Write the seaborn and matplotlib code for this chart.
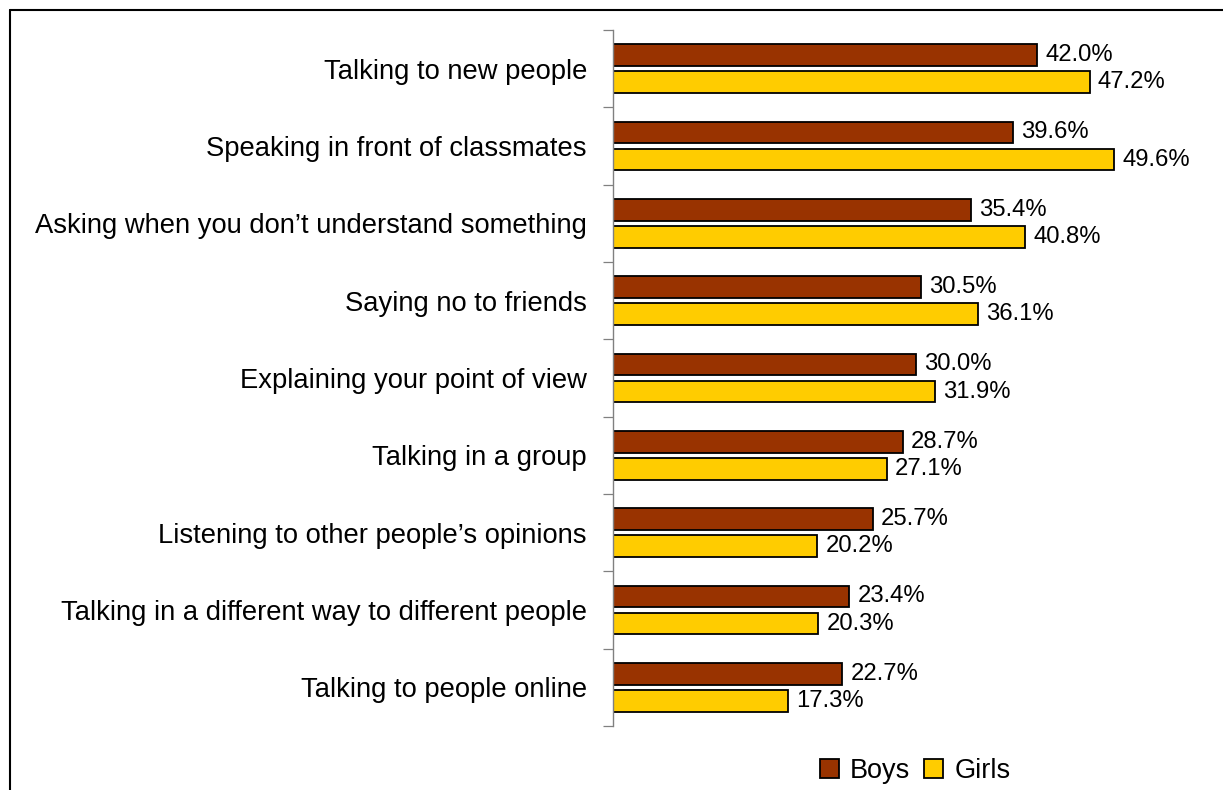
import matplotlib
matplotlib.use("Agg")
import matplotlib.pyplot as plt
from matplotlib.lines import Line2D
from matplotlib.patches import Patch
import seaborn as sns
import pandas as pd

# Share of pupils who find each communication situation difficult (%)
categories = [
    "Talking to new people",
    "Speaking in front of classmates",
    "Asking when you don\u2019t understand something",
    "Saying no to friends",
    "Explaining your point of view",
    "Talking in a group",
    "Listening to other people\u2019s opinions",
    "Talking in a different way to different people",
    "Talking to people online",
]
boys = [42.0, 39.6, 35.4, 30.5, 30.0, 28.7, 25.7, 23.4, 22.7]
girls = [47.2, 49.6, 40.8, 36.1, 31.9, 27.1, 20.2, 20.3, 17.3]
groups = ["Boys", "Girls"]
colors = ["#993300", "#FFCC00"]

df = pd.DataFrame({
    "item": categories * 2,
    "pct": boys + girls,
    "group": [groups[0]] * len(boys) + [groups[1]] * len(girls),
})

sns.set_theme(style="white")
plt.rcParams["font.family"] = ["Liberation Sans", "DejaVu Sans"]
plt.rcParams["text.color"] = "black"
plt.rcParams["ytick.labelcolor"] = "black"

fig = plt.figure(figsize=(12.23, 7.90), dpi=100)
ax = fig.add_axes([613.3 / 1223, 1 - 726 / 790, 555 / 1223, 696 / 790])

sns.barplot(
    data=df, x="pct", y="item", hue="group", order=categories,
    hue_order=groups, palette=colors, orient="h", width=0.7, gap=0.2,
    edgecolor="black", linewidth=1.3, saturation=1, legend=False, ax=ax,
)

for cont in ax.containers:
    ax.bar_label(cont, fmt="%.1f%%", padding=6, fontsize=17.2, color="black")

ax.set_xlim(0, 55)
ax.set_ylim(len(categories) - 0.5, -0.5)
ax.set_xlabel("")
ax.set_ylabel("")
ax.set_xticks([])

# category boundaries as ticks, labels at the centres
ax.set_yticks([i - 0.5 for i in range(len(categories) + 1)])
ax.set_yticklabels([])
ax.set_yticks(range(len(categories)), minor=True)
ax.set_yticklabels(categories, minor=True, fontsize=19.7, color="black")
ax.tick_params(axis="y", which="major", left=True, length=7.2, width=0.9,
               color="#808080", direction="out")
ax.tick_params(axis="y", which="minor", left=False, length=0, pad=19)

for side in ["top", "right", "bottom"]:
    ax.spines[side].set_visible(False)
ax.spines["left"].set_color("#808080")
ax.spines["left"].set_linewidth(1.0)

handles = [Patch(facecolor=c, edgecolor="black", linewidth=1.3) for c in colors]
fig.legend(handles, groups, loc="center", bbox_to_anchor=(915 / 1223, 1 - 771 / 790),
           ncol=2, frameon=False, fontsize=19.5, handlelength=0.72, handleheight=0.72,
           handletextpad=0.4, columnspacing=0.5, borderpad=0, labelcolor="black")

# outer frame (top and left edges)
fig.add_artist(Line2D([10 / 1223, 10 / 1223], [0, 1 - 10 / 790],
                      transform=fig.transFigure, color="black", linewidth=1.5))
fig.add_artist(Line2D([10 / 1223, 1], [1 - 10 / 790, 1 - 10 / 790],
                      transform=fig.transFigure, color="black", linewidth=1.5))

fig.savefig("out.png", dpi=100, facecolor="white")
